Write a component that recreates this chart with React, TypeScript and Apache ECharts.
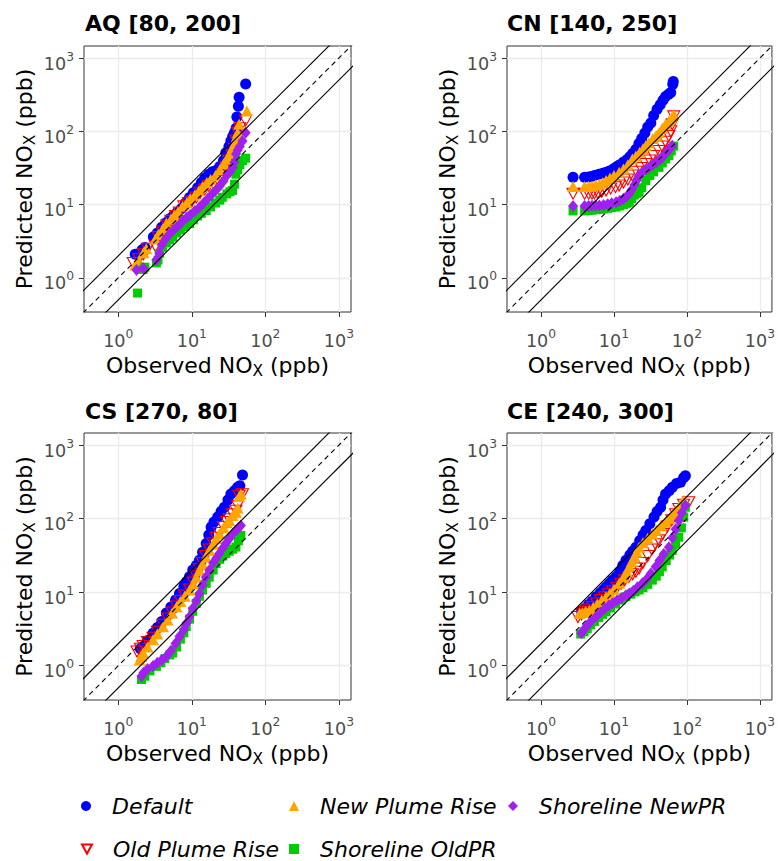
import React, { useEffect, useRef } from "react";
import * as echarts from "echarts";

const FONT = "DejaVu Sans";
const AXIS_MIN = 0.342;
const AXIS_MAX = 1462;
const DECADE_TICKS = [1, 10, 100, 1000];
const REF_X = [0.1, 10000];
const REF_RATIOS = [1, 2, 0.5];

const PANEL_TITLES = ["AQ [80, 200]", "CN [140, 250]", "CS [270, 80]", "CE [240, 300]"];
const SERIES_NAMES = ["Default", "Old Plume Rise", "New Plume Rise", "Shoreline OldPR", "Shoreline NewPR"];

// ---- AQ [80, 200] ----
const AQ_DEFAULT_OBS = [1.7, 2.1, 2.3, 3.0, 3.4, 3.9, 4.4, 5.0, 5.6, 6.3, 7.2, 8.2, 9.3, 10.5, 12, 13.5, 15, 17, 19, 21, 24, 27, 29, 32, 34, 36, 38, 40, 41, 43, 44, 54];
const AQ_DEFAULT_PRED = [2.1, 2.4, 2.6, 3.6, 4.1, 4.9, 5.6, 6.4, 7.0, 7.8, 8.8, 10.5, 12.5, 14.5, 17, 20, 23, 26, 28, 29, 33, 40, 51, 62, 74, 85, 96, 110, 157, 220, 292, 443];
const AQ_OLD_OBS = [1.6, 1.9, 2.2, 2.5, 3.2, 3.5, 4.0, 4.6, 5.2, 6.0, 6.8, 7.8, 9.0, 10, 11.5, 13, 15, 17, 20, 23, 26, 29, 32, 35, 38, 40, 42, 45, 54];
const AQ_OLD_PRED = [1.6, 1.8, 2.1, 2.5, 2.7, 3.6, 4.3, 5.2, 6.0, 7.0, 7.8, 9.5, 10.5, 11, 12.5, 14.5, 16, 18, 18.5, 21, 26, 32, 40, 48, 58, 75, 96, 110, 140];
const AQ_NEW_OBS = [1.7, 1.9, 2.2, 2.4, 3.2, 3.5, 4.0, 4.5, 5.2, 5.8, 6.5, 7.5, 8.5, 9.5, 11, 12.5, 14, 16, 18, 21, 24, 27, 30, 33, 36, 39, 41, 42, 44, 56];
const AQ_NEW_PRED = [1.5, 1.7, 2.2, 2.5, 3.4, 3.9, 4.6, 5.5, 6.3, 7.2, 8.0, 9.5, 10.5, 12, 13.5, 15.5, 17.5, 20, 22, 25, 30, 36, 42, 50, 60, 70, 85, 96, 125, 189];
const AQ_SHOLD_OBS = [1.83, 2.18, 2.3, 3.3, 3.47, 3.66, 4.0, 4.5, 5.0, 5.5, 6.2, 7.0, 8.0, 9.3, 10.5, 12, 13.5, 15.7, 18, 21, 24, 26, 30, 33, 35.8, 38, 39.8, 42, 45, 49, 54];
const AQ_SHOLD_PRED = [0.62, 1.3, 1.4, 1.6, 1.75, 2.16, 2.6, 3.0, 3.3, 3.6, 4.1, 4.5, 5.0, 5.5, 6.2, 7.0, 7.6, 8.3, 9.3, 10.5, 11.5, 12.6, 14, 15, 15.6, 19, 26, 30, 35, 40, 43];
const AQ_SHNEW_OBS = [1.77, 2.2, 3.3, 3.6, 3.9, 4.4, 5.0, 5.6, 6.3, 7.0, 7.6, 8.5, 9.5, 11, 12.7, 14.5, 16.5, 18.5, 21, 24, 27, 30, 33, 36, 38, 40, 42, 45, 49, 54];
const AQ_SHNEW_PRED = [1.28, 1.35, 1.75, 2.16, 2.8, 3.4, 4.0, 4.5, 5.0, 5.5, 6.1, 6.6, 7.2, 8.2, 9.2, 10.5, 12, 13.5, 15.6, 18, 21, 25, 28, 32, 38, 49, 55, 62, 74, 96];

// ---- CN [140, 250] ----
const CN_DEFAULT_OBS = [2.75, 3.96, 4.5, 4.9, 5.4, 6.2, 7.0, 7.8, 8.8, 10, 11, 12, 13.5, 15, 16.5, 18, 20, 22, 24, 26.5, 29, 32, 35, 39, 43, 47, 51, 56, 60, 64, 65];
const CN_DEFAULT_PRED = [23.6, 23.6, 23.8, 24.2, 25, 26, 26.8, 27.6, 29, 31, 33, 35, 38, 41, 45, 50, 57, 68, 80, 95, 115, 130, 165, 200, 230, 265, 300, 320, 340, 440, 480];
const CN_OLD_OBS = [2.75, 3.96, 4.5, 5.0, 5.4, 6.0, 6.8, 7.8, 9.0, 10.5, 11.8, 13.5, 15.5, 17.9, 20.5, 23.5, 27.3, 31, 35, 41.4, 46, 51, 56.6, 60, 63, 66];
const CN_OLD_PRED = [14.1, 14.1, 14.1, 14.1, 14.2, 14.5, 15, 15.6, 16.5, 17.3, 18.2, 20, 22, 24.9, 28, 31.5, 35.8, 40, 46, 54, 62, 72, 86.6, 100, 125, 160];
const CN_NEW_OBS = [2.75, 3.96, 4.5, 5.0, 5.6, 6.3, 7.0, 7.8, 8.8, 10, 11.8, 13.5, 15.5, 17.9, 20, 22.5, 25, 27.3, 30, 34, 38, 41.4, 46, 51, 56.6, 62, 66];
const CN_NEW_PRED = [17.7, 17.7, 17.8, 18, 18.5, 19, 19.8, 21.3, 23, 25, 27.6, 30.5, 35, 41.9, 46, 52, 58, 63.4, 70, 80, 88, 96, 110, 125, 138, 150, 171];
const CN_SHOLD_OBS = [2.75, 3.96, 4.5, 5.0, 5.6, 6.3, 7.2, 8.2, 9.3, 10.7, 12, 13.5, 15, 16.2, 17.5, 19, 20.5, 22.1, 24, 27.3, 31, 35, 41.4, 46, 51, 56.6, 61, 66];
const CN_SHOLD_PRED = [8.2, 8.2, 8.3, 8.4, 8.5, 8.6, 8.7, 8.9, 9.1, 9.25, 9.6, 10.0, 10.4, 10.8, 12, 13.5, 14.2, 14.8, 17, 21.3, 25, 28, 32.2, 37, 42, 46.4, 54, 63];
const CN_SHNEW_OBS = [2.75, 3.96, 4.5, 5.0, 5.6, 6.3, 7.2, 8.2, 9.3, 10.7, 12, 13.5, 15, 16.2, 17.5, 19, 20.5, 22.1, 24, 27, 30.3, 34, 38, 42, 45.9, 51, 56, 60, 63];
const CN_SHNEW_PRED = [9.55, 9.6, 9.6, 9.65, 9.7, 9.75, 9.9, 10.1, 10.4, 10.8, 11.3, 12, 13, 14.1, 16, 18.5, 21.5, 24.9, 27, 30, 32.2, 35, 38, 41, 44, 50, 56, 60, 63.4];

// ---- CS [270, 80] ----
const CS_DEFAULT_OBS = [2.0, 2.18, 2.5, 2.97, 3.4, 3.9, 4.5, 5.2, 6.0, 6.8, 7.8, 8.5, 9.3, 10.3, 11.5, 12.7, 14, 15.7, 17, 18.3, 20, 22.5, 25, 27.7, 31, 34, 38, 41.9, 45, 48.9];
const CS_DEFAULT_PRED = [1.7, 1.82, 2.2, 2.77, 3.3, 4.0, 5.2, 6.3, 7.8, 9.6, 12, 14, 16.2, 20, 23, 27.2, 35, 45.8, 60, 76.7, 90, 105, 125, 143, 180, 217, 240, 267, 280, 393];
const CS_OLD_OBS = [1.8, 2.0, 2.18, 2.5, 2.97, 3.4, 4.06, 4.7, 5.4, 6.2, 7.0, 8.0, 9.3, 10.5, 11.5, 12.7, 14, 15.5, 17.3, 19.5, 21.5, 23.7, 27, 30, 32.3, 36, 39.8, 42, 44, 48.9];
const CS_OLD_PRED = [1.56, 1.7, 1.85, 2.1, 2.4, 2.9, 3.6, 4.4, 5.3, 6.4, 7.6, 9.0, 10.9, 13.5, 16.5, 20.5, 25, 31, 38, 46, 55, 64, 77, 90, 98, 115, 128, 150, 205, 215];
const CS_NEW_OBS = [1.96, 2.05, 2.18, 2.5, 2.97, 3.4, 4.06, 4.7, 5.4, 6.2, 7.0, 8.0, 9.3, 10.5, 11.5, 12.7, 14, 15.5, 17.3, 19.5, 21.5, 23.7, 27, 30, 32.3, 36, 39.8, 42, 44, 46.5];
const CS_NEW_PRED = [1.2, 1.35, 1.49, 1.8, 2.25, 2.7, 3.4, 4.2, 5.2, 6.35, 7.5, 8.8, 10.7, 13, 16, 19.9, 24, 30, 37.1, 45, 54, 62.5, 75, 88, 94.6, 110, 122, 140, 200, 217];
const CS_SHOLD_OBS = [2.07, 2.3, 2.7, 3.3, 3.8, 4.3, 5.0, 5.5, 6.2, 7.0, 7.8, 8.4, 9.3, 10.3, 11.5, 12.7, 14, 15.7, 17.3, 19.5, 21.4, 24, 26.5, 29, 32.3, 36, 39.8, 43, 46.5];
const CS_SHOLD_PRED = [0.65, 0.72, 0.85, 0.98, 1.1, 1.25, 1.4, 1.49, 1.8, 2.3, 2.8, 3.4, 4.3, 5.5, 7.05, 8.8, 10.7, 13.2, 16, 20, 24.5, 28, 31, 33.5, 36, 38.5, 41.1, 50, 59.3];
const CS_SHNEW_OBS = [2.07, 2.2, 2.5, 2.97, 3.4, 3.9, 4.5, 5.2, 6.0, 6.8, 7.8, 8.5, 9.3, 10.3, 11.5, 12.7, 14, 15.5, 17.3, 19.5, 21.5, 23.7, 26.5, 29, 32.3, 36, 39.8, 43, 46.5];
const CS_SHNEW_PRED = [0.72, 0.8, 0.9, 0.99, 1.1, 1.2, 1.34, 1.6, 2.0, 2.49, 3.1, 3.8, 4.65, 6.0, 7.6, 9.6, 12.5, 16, 19.9, 25, 29, 33.5, 40, 46, 53.5, 62, 69, 75, 81];

// ---- CE [240, 300] ----
const CE_DEFAULT_OBS = [3.6, 4.0, 4.5, 5.0, 5.7, 6.5, 7.2, 7.8, 8.6, 9.5, 10.7, 12, 13.2, 14.6, 16.5, 18, 20, 22.5, 25, 27.3, 31, 35.4, 39, 43.6, 47, 51, 57, 63, 72, 81.6, 90, 95.3];
const CE_DEFAULT_PRED = [5.5, 6.0, 6.8, 7.5, 8.7, 9.8, 10.8, 11.8, 13, 14.5, 16.2, 19, 23, 27.2, 32, 36, 41, 50, 60, 69, 85, 105, 125, 143, 180, 217, 240, 267, 300, 312, 360, 384];
const CE_OLD_OBS = [3.21, 3.6, 4.0, 4.5, 5.1, 5.8, 6.6, 7.5, 8.5, 9.6, 11, 12.5, 14, 16, 18, 20, 22.1, 25, 29, 33, 37, 41.4, 47, 54, 62, 70, 77.4, 90, 106];
const CE_OLD_PRED = [4.6, 5.0, 5.4, 5.8, 6.3, 7.0, 7.8, 8.5, 9.3, 10.3, 11.5, 13, 14.5, 16, 17.5, 19, 21, 25, 31, 38, 45, 50.7, 62, 78, 95, 115, 135, 155, 167];
const CE_NEW_OBS = [3.39, 3.7, 4.1, 4.6, 5.2, 5.9, 6.8, 7.8, 8.8, 10, 11.8, 13.5, 15, 16.2, 17.5, 19, 20.5, 22.1, 25, 29, 33.6, 38, 44, 51, 58, 64, 69.8, 78, 85, 90.5];
const CE_NEW_PRED = [5.17, 5.3, 5.5, 5.7, 6.2, 6.9, 7.8, 8.7, 9.6, 11, 13.2, 16, 19, 22.1, 26, 30, 35, 41, 47, 54, 62.5, 70, 80, 89.7, 100, 115, 129, 145, 165, 176];
const CE_SHOLD_OBS = [3.5, 3.9, 4.3, 4.8, 5.4, 6.2, 7.0, 7.8, 9.0, 10.5, 12.5, 14.6, 17, 19.5, 22.1, 25, 29, 33.6, 38, 42, 45.9, 52, 58, 63, 70, 77.4, 84, 90.5, 95.3];
const CE_SHOLD_PRED = [2.7, 2.9, 3.2, 3.6, 4.0, 4.5, 5.0, 5.43, 6.1, 6.9, 7.8, 8.7, 9.4, 10.1, 10.7, 11.5, 12.8, 14.6, 16.5, 19, 22.1, 27, 32, 37.1, 45, 56, 75, 105, 143];
const CE_SHNEW_OBS = [3.57, 3.9, 4.3, 4.8, 5.7, 6.5, 7.5, 8.5, 9.6, 11, 12.5, 14.5, 16.2, 18.5, 21, 24.5, 28, 32, 37.3, 42, 48, 56.6, 63, 70, 77.4, 85, 95.3];
const CE_SHNEW_PRED = [2.77, 3.1, 3.5, 4.0, 4.65, 5.3, 6.0, 6.6, 7.05, 7.7, 8.3, 9.0, 9.6, 10.5, 11.7, 13.2, 15, 18, 22.1, 27, 33, 41, 55, 72, 94.6, 120, 151];

// Per panel: [obs, pred] for Default, Old, New, ShOld, ShNew
const PANEL_DATA: number[][][][] = [
  [[AQ_DEFAULT_OBS, AQ_DEFAULT_PRED], [AQ_OLD_OBS, AQ_OLD_PRED], [AQ_NEW_OBS, AQ_NEW_PRED], [AQ_SHOLD_OBS, AQ_SHOLD_PRED], [AQ_SHNEW_OBS, AQ_SHNEW_PRED]],
  [[CN_DEFAULT_OBS, CN_DEFAULT_PRED], [CN_OLD_OBS, CN_OLD_PRED], [CN_NEW_OBS, CN_NEW_PRED], [CN_SHOLD_OBS, CN_SHOLD_PRED], [CN_SHNEW_OBS, CN_SHNEW_PRED]],
  [[CS_DEFAULT_OBS, CS_DEFAULT_PRED], [CS_OLD_OBS, CS_OLD_PRED], [CS_NEW_OBS, CS_NEW_PRED], [CS_SHOLD_OBS, CS_SHOLD_PRED], [CS_SHNEW_OBS, CS_SHNEW_PRED]],
  [[CE_DEFAULT_OBS, CE_DEFAULT_PRED], [CE_OLD_OBS, CE_OLD_PRED], [CE_NEW_OBS, CE_NEW_PRED], [CE_SHOLD_OBS, CE_SHOLD_PRED], [CE_SHNEW_OBS, CE_SHNEW_PRED]],
];

const GRIDS = [
  { left: 84, top: 46, width: 267, height: 266 },
  { left: 507, top: 46, width: 266, height: 266 },
  { left: 84, top: 433, width: 267, height: 267 },
  { left: 507, top: 433, width: 266, height: 267 },
];
const TITLE_POS = [
  { left: 85, top: 12 },
  { left: 507, top: 12 },
  { left: 85, top: 400 },
  { left: 507, top: 400 },
];

const DOWN_TRIANGLE = "path://M0,0 L12,0 L6,11 Z";

const SERIES_STYLE: any[] = [
  { symbol: "circle", symbolSize: 11, itemStyle: { color: "#0000FF", opacity: 1 } },
  { symbol: DOWN_TRIANGLE, symbolSize: [12, 11], itemStyle: { color: "rgba(255,255,255,0)", borderColor: "#FF0000", borderWidth: 1.1, opacity: 1 } },
  { symbol: "triangle", symbolSize: [12, 11], itemStyle: { color: "#FFA500", opacity: 1 } },
  { symbol: "rect", symbolSize: 9, itemStyle: { color: "#00CD00", opacity: 1 } },
  { symbol: "diamond", symbolSize: [10, 12], itemStyle: { color: "#A020F0", opacity: 1 } },
];

const LEGEND_POS = [
  { name: "Default", left: 81, top: 795 },
  { name: "New Plume Rise", left: 289, top: 795 },
  { name: "Shoreline NewPR", left: 508, top: 795 },
  { name: "Old Plume Rise", left: 81, top: 838 },
  { name: "Shoreline OldPR", left: 289, top: 838 },
];

const tickRich = {
  b: { fontSize: 17.6, lineHeight: 22, verticalAlign: "bottom", color: "#4D4D4D", fontFamily: FONT },
  s: { fontSize: 12.3, lineHeight: 14, verticalAlign: "top", color: "#4D4D4D", fontFamily: FONT },
};
const tickFormatter = (v: number) => `{b|10}{s|${Math.round(Math.log10(v))}}`;

const nameStyle = {
  fontSize: 22,
  lineHeight: 26,
  color: "#000000",
  fontFamily: FONT,
  rich: {
    sub: { fontSize: 15.4, lineHeight: 17, verticalAlign: "bottom", color: "#000000", fontFamily: FONT },
  },
};

function buildOption() {
  const xAxis: any[] = [];
  const yAxis: any[] = [];
  const series: any[] = [];
  GRIDS.forEach((_, i) => {
    const common = {
      type: "log",
      logBase: 10,
      gridIndex: i,
      min: AXIS_MIN,
      max: AXIS_MAX,
      nameLocation: "middle",
      nameMoveOverlap: false,
      nameTextStyle: nameStyle,
      axisLine: { show: false },
      axisTick: { show: true, length: 5, customValues: DECADE_TICKS, lineStyle: { color: "#333333", width: 1 } },
      splitLine: { show: true, lineStyle: { color: "#EBEBEB", width: 1.3 } },
      minorSplitLine: { show: false },
    };
    xAxis.push({
      ...common,
      name: "Observed NO{sub|X} (ppb)",
      nameGap: 40,
      axisLabel: { customValues: DECADE_TICKS, formatter: tickFormatter, rich: tickRich, margin: 16 },
    });
    yAxis.push({
      ...common,
      name: "Predicted NO{sub|X} (ppb)",
      nameGap: 47,
      axisLabel: { customValues: DECADE_TICKS, formatter: tickFormatter, rich: tickRich, margin: 10, padding: [7, 0, 0, 0] },
    });
    PANEL_DATA[i].forEach(([obs, pred], k) => {
      series.push({
        type: "scatter",
        name: SERIES_NAMES[k],
        xAxisIndex: i,
        yAxisIndex: i,
        z: 2,
        ...SERIES_STYLE[k],
        data: obs.map((o, j) => [o, pred[j]]),
      });
    });
    REF_RATIOS.forEach((r) => {
      series.push({
        type: "line",
        xAxisIndex: i,
        yAxisIndex: i,
        symbol: "none",
        silent: true,
        clip: true,
        z: 3,
        lineStyle: { color: "#000000", width: 1.1, type: r === 1 ? [5, 4] : "solid" },
        data: REF_X.map((x) => [x, x * r]),
      });
    });
  });

  return {
    animation: false,
    backgroundColor: "#FFFFFF",
    title: PANEL_TITLES.map((t, i) => ({
      text: t,
      left: TITLE_POS[i].left,
      top: TITLE_POS[i].top,
      padding: 0,
      textStyle: { fontSize: 22, fontWeight: "bold", color: "#000000", fontFamily: FONT },
    })),
    grid: GRIDS.map((g) => ({ ...g, show: true, borderColor: "#333333", borderWidth: 1, backgroundColor: "#FFFFFF", containLabel: false })),
    legend: LEGEND_POS.map((l) => ({
      data: [l.name],
      left: l.left,
      top: l.top,
      padding: 0,
      itemWidth: 10,
      itemHeight: 10,
      selectedMode: false,
      textStyle: { fontSize: 22, fontStyle: "italic", color: "#000000", fontFamily: FONT, padding: [0, 0, 0, 16] },
    })),
    xAxis,
    yAxis,
    series,
  };
}

export default function App() {
  const ref = useRef<HTMLDivElement>(null);
  useEffect(() => {
    if (!ref.current) return;
    const chart = echarts.init(ref.current, undefined, { renderer: "svg" });
    chart.setOption(buildOption() as any);
    return () => chart.dispose();
  }, []);
  return (
    <div
      ref={ref}
      style={{ position: "absolute", left: 0, top: 0, width: 778, height: 861, background: "#FFFFFF" }}
    />
  );
}
